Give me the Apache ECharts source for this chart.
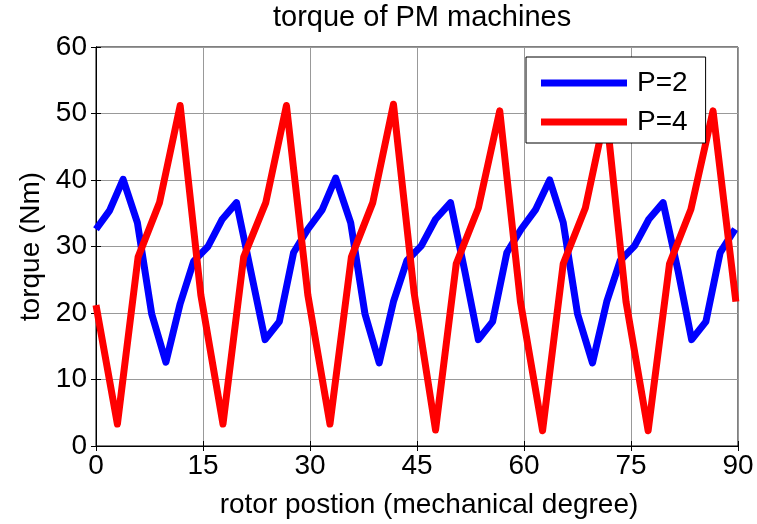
<!DOCTYPE html>
<html>
<head>
<meta charset="utf-8">
<script src="https://cdn.jsdelivr.net/npm/echarts@6/dist/echarts.min.js"></script>
<style>
  html, body { margin: 0; padding: 0; background: #fff; }
  #main { width: 757px; height: 524px; }
</style>
</head>
<body>
<div id="main"></div>
<script>
// rotor position (deg) where each curve has a sample
var p2Angle = [0, 1.9, 3.8, 5.8, 7.8, 9.8, 11.8, 13.7, 15.7, 17.7, 19.7, 21.7, 23.7, 25.7, 27.7,
               29.7, 31.7, 33.6, 35.7, 37.7, 39.7, 41.7, 43.6, 45.6, 47.6, 49.7, 51.7, 53.6, 55.6, 57.6,
               59.6, 61.6, 63.6, 65.5, 67.5, 69.6, 71.6, 73.5, 75.5, 77.5, 79.5, 81.6, 83.5, 85.5, 87.5,
               89.6];
var p2Torque = [32.6, 35.4, 40.1, 33.6, 19.9, 12.6, 21.4, 27.8, 30.0, 34.1, 36.6, 26.3, 16.0, 18.7, 29.1,
                32.6, 35.5, 40.3, 33.6, 19.9, 12.5, 21.7, 27.9, 30.1, 34.1, 36.6, 26.3, 16.0, 18.7, 29.1,
                32.6, 35.5, 40.0, 33.6, 19.9, 12.5, 21.7, 27.9, 30.1, 34.1, 36.6, 26.3, 16.0, 18.7, 29.1,
                32.6];
var p4Angle = [0, 3.0, 5.9, 8.9, 11.8, 14.7, 17.8, 20.7, 23.8, 26.7,
               29.7, 32.8, 35.8, 38.8, 41.7, 44.6, 47.6, 50.5, 53.6, 56.6,
               59.5, 62.6, 65.5, 68.6, 71.5, 74.3, 77.4, 80.4, 83.4, 86.5,
               89.7];
var p4Torque = [21.2, 3.3, 28.4, 36.6, 51.2, 22.7, 3.3, 28.4, 36.6, 51.2,
                22.7, 3.3, 28.4, 36.6, 51.4, 23.0, 2.4, 27.4, 35.8, 50.4,
                21.7, 2.3, 27.4, 35.8, 50.4, 21.7, 2.3, 27.4, 35.6, 50.4,
                21.7];
var xTicks = [0, 90, 15];   // min, max, step
var yTicks = [0, 60, 10];

function pairs(xs, ys) {
    return xs.map(function (x, i) { return [x, ys[i]]; });
}

var font = 'Liberation Sans, Arial, sans-serif';
var myChart = echarts.init(document.getElementById('main'));

var tickSide = { show: true, inside: true, length: 5, lineStyle: { color: '#000', width: 1 } };

var option = {
    animation: false,
    title: {
        text: 'torque of PM machines',
        left: 268,
        top: -2,
        textStyle: { fontFamily: font, fontSize: 29, fontWeight: 'normal', color: '#000' }
    },
    legend: {
        orient: 'vertical',
        left: 526,
        top: 57,
        padding: [9, 18, 4, 15],
        itemGap: 5,
        itemWidth: 86,
        itemHeight: 7,
        icon: 'rect',
        backgroundColor: '#fff',
        borderColor: '#000',
        borderWidth: 1,
        borderRadius: 0,
        textStyle: { fontFamily: font, fontSize: 28, color: '#000', lineHeight: 34, padding: [0, 0, 0, 5] },
        data: ['P=2', 'P=4']
    },
    grid: {
        left: 96, right: 19, top: 47, bottom: 74,
        show: true, borderColor: '#000', borderWidth: 1, backgroundColor: '#fff'
    },
    xAxis: [{
        type: 'value',
        min: xTicks[0], max: xTicks[1], interval: xTicks[2],
        name: 'rotor postion (mechanical degree)',
        nameLocation: 'middle',
        nameGap: 45,
        nameTextStyle: { fontFamily: font, fontSize: 28, color: '#000', padding: [0, 0, 0, 24] },
        axisLine: { show: true, lineStyle: { color: '#000', width: 1 } },
        axisTick: tickSide,
        axisLabel: { fontFamily: font, fontSize: 28, color: '#000', margin: 6 },
        splitLine: { show: true, lineStyle: { color: '#999', width: 1 } }
    }, {
        type: 'value', position: 'top',
        min: xTicks[0], max: xTicks[1], interval: xTicks[2],
        axisLine: { show: true, lineStyle: { color: '#000' } },
        axisTick: tickSide,
        axisLabel: { show: false },
        splitLine: { show: false }
    }],
    yAxis: [{
        type: 'value',
        min: yTicks[0], max: yTicks[1], interval: yTicks[2],
        name: 'torque (Nm)',
        nameLocation: 'middle',
        nameGap: 48,
        nameTextStyle: { fontFamily: font, fontSize: 28, color: '#000' },
        axisLine: { show: true, lineStyle: { color: '#000', width: 1 } },
        axisTick: tickSide,
        axisLabel: { fontFamily: font, fontSize: 28, color: '#000', margin: 9 },
        splitLine: { show: true, lineStyle: { color: '#999', width: 1 } }
    }, {
        type: 'value', position: 'right',
        min: yTicks[0], max: yTicks[1], interval: yTicks[2],
        axisLine: { show: true, lineStyle: { color: '#000' } },
        axisTick: tickSide,
        axisLabel: { show: false },
        splitLine: { show: false }
    }],
    series: [{
        name: 'P=2',
        type: 'line',
        data: pairs(p2Angle, p2Torque),
        showSymbol: false,
        symbol: 'none',
        color: '#0000ff',
        lineStyle: { color: '#0000ff', width: 7, join: 'round' }
    }, {
        name: 'P=4',
        type: 'line',
        data: pairs(p4Angle, p4Torque),
        showSymbol: false,
        symbol: 'none',
        color: '#ff0000',
        lineStyle: { color: '#ff0000', width: 7, join: 'round' }
    }]
};
myChart.setOption(option);
</script>
</body>
</html>
